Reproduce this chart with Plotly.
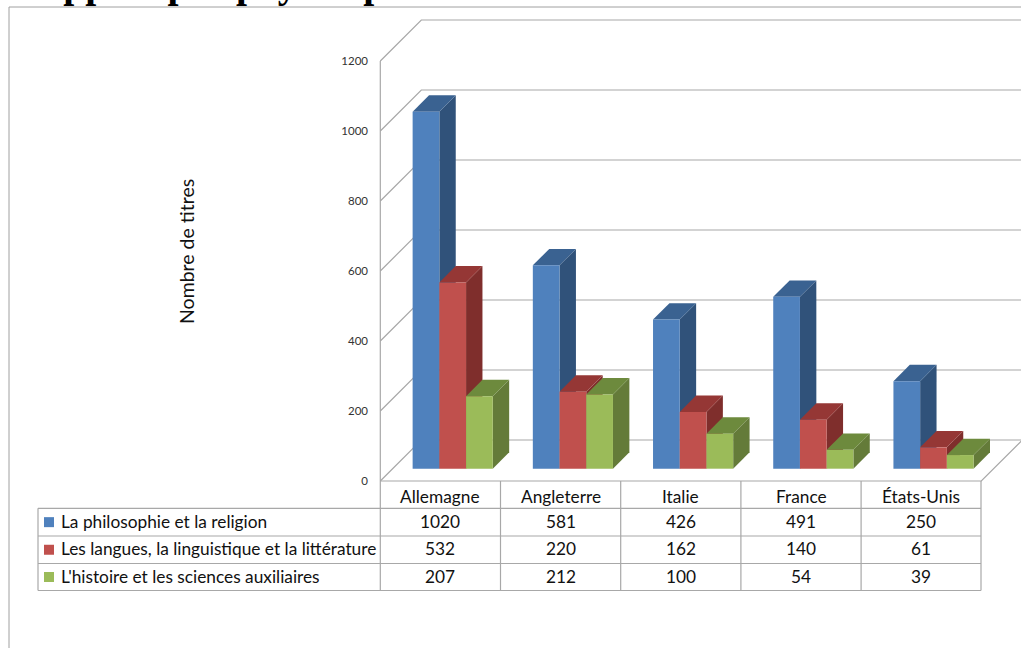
import plotly.graph_objects as go

# Data
countries = ["Allemagne", "Angleterre", "Italie", "France", "États-Unis"]
series_names = [
    "La philosophie et la religion",
    "Les langues, la linguistique et la littérature",
    "L'histoire et les sciences auxiliaires",
]
philosophie = [1020, 581, 426, 491, 250]
langues = [532, 220, 162, 140, 61]
histoire = [207, 212, 100, 54, 39]
axis_ticks = [0, 200, 400, 600, 800, 1000, 1200]

# Colours per series: front, side and top faces
front_colors = ["#4F81BD", "#C0504D", "#9BBB59"]
side_colors = ["#30527A", "#7F2E2C", "#647B39"]
top_colors = ["#3A6291", "#953735", "#6D8A3D"]
GRID = "#A8A8A8"
TEXT = "#111111"

# Canvas and oblique projection settings
W, H = 1021, 648
PLOT_LEFT = 380.3
CAT_PX = 120.2
ZERO_PX = 481
VALUE_PX = 0.35
WALL_PX = 41
BAR_FRONT, BAR_BACK = 0.30, 0.70
DX = WALL_PX / CAT_PX
DY = WALL_PX / VALUE_PX
BAR_W = 2 / 9
x_range = [-PLOT_LEFT / CAT_PX, (W - PLOT_LEFT) / CAT_PX]
y_range = [(ZERO_PX - H) / VALUE_PX, ZERO_PX / VALUE_PX]


def px(x):
    return x / W


def py(y):
    return 1 - y / H


fig = go.Figure()

# Back wall grid, left wall diagonals and floor outline
gx, gy = [], []
for v in axis_ticks:
    gx += [0, DX, x_range[1], None]
    gy += [v, v + DY, v + DY, None]
gx += [0, 0, None, 0, 5, 5 + DX]
gy += [0, 1200, None, 0, 0, DY]
fig.add_trace(go.Scatter(x=gx, y=gy, mode="lines", line=dict(color=GRID, width=1.2),
                         hoverinfo="skip", showlegend=False, zorder=0))

# Bars: side and top faces behind each series' front face
for s, values in enumerate([philosophie, langues, histoire]):
    for i, v in enumerate(values):
        left = i + 1 / 6 + s * BAR_W + BAR_FRONT * DX
        right = left + BAR_W
        depth_x = (BAR_BACK - BAR_FRONT) * DX
        depth_y = (BAR_BACK - BAR_FRONT) * DY
        base = BAR_FRONT * DY
        top = base + v
        fig.add_trace(go.Scatter(
            x=[right, right + depth_x, right + depth_x, right, right],
            y=[base, base + depth_y, top + depth_y, top, base],
            mode="lines", fill="toself", fillcolor=side_colors[s], line=dict(width=0),
            hoverinfo="skip", showlegend=False, zorder=2 * s + 1))
        fig.add_trace(go.Scatter(
            x=[left, right, right + depth_x, left + depth_x, left],
            y=[top, top, top + depth_y, top + depth_y, top],
            mode="lines", fill="toself", fillcolor=top_colors[s], line=dict(width=0),
            hoverinfo="skip", showlegend=False, zorder=2 * s + 1))
    fig.add_trace(go.Bar(
        x=[i + 1 / 6 + (s + 0.5) * BAR_W + BAR_FRONT * DX for i in range(len(values))],
        y=values,
        base=BAR_FRONT * DY,
        width=BAR_W,
        name=series_names[s],
        marker=dict(color=front_colors[s], line=dict(width=0)),
        showlegend=False,
        zorder=2 * s + 2,
    ))

# Data table below the plot
shapes = []


def rule(x0, y0, x1, y1, color=GRID, width=1.2):
    shapes.append(dict(type="line", xref="paper", yref="paper",
                       x0=px(x0), y0=py(y0), x1=px(x1), y1=py(y1),
                       line=dict(color=color, width=width)))


col_edges = [380.3, 500.5, 620.7, 740.9, 861.1, 981]
row_edges = [508.3, 536, 563.5, 590.5]
for y in row_edges:
    rule(38, y, 981, y)
rule(38, 508.3, 38, 590.5)
for x in col_edges:
    rule(x, 481, x, 590.5)

# Page frame
rule(9, 7, W, 7, "#A0A0A0", 1)
rule(9, 7, 9, H, "#A0A0A0", 1)

annotations = []


def label(x, y, text, size=17.3, anchor="center", **kw):
    annotations.append(dict(xref="paper", yref="paper", x=px(x), y=py(y), text=text,
                            showarrow=False, xanchor=anchor, yanchor="middle",
                            font=dict(family=kw.pop("family", "Lato"), size=size,
                                      color=kw.pop("color", TEXT)), **kw))


for i, name in enumerate(countries):
    label(PLOT_LEFT + (i + 0.5) * CAT_PX, 496.5, name)
for r, values in enumerate([philosophie, langues, histoire]):
    mid = (row_edges[r] + row_edges[r + 1]) / 2
    label(58.5, mid - 1, series_names[r], anchor="left")
    shapes.append(dict(type="rect", xref="paper", yref="paper",
                       x0=px(44), x1=px(54), y0=py(mid - 5), y1=py(mid + 5),
                       fillcolor=front_colors[r], line=dict(width=0)))
    for i, v in enumerate(values):
        label(PLOT_LEFT + (i + 0.5) * CAT_PX, mid - 1, str(v))

label(187, 252, "Nombre de titres", size=19.5, textangle=-90)

# Running heading of the page, cut by the top edge
annotations.append(dict(xref="paper", yref="paper", x=px(13), y=1, yshift=16,
                        yanchor="middle", xanchor="left", showarrow=False,
                        text="<b>Rapport par pays et par</b>",
                        font=dict(family="Liberation Serif", size=39.5, color="#000000")))

fig.update_layout(
    width=W, height=H, autosize=False,
    margin=dict(l=0, r=0, t=0, b=0),
    paper_bgcolor="#FFFFFF", plot_bgcolor="#FFFFFF",
    barmode="overlay", showlegend=False,
    shapes=shapes, annotations=annotations,
    xaxis=dict(range=x_range, visible=False, domain=[0, 1]),
    yaxis=dict(range=y_range, domain=[0, 1], anchor="free", position=px(368),
               tickmode="array", tickvals=axis_ticks, showgrid=False, zeroline=False,
               showline=False, ticks="", tickfont=dict(family="Lato", size=11.5, color="#333333")),
)
fig.write_html("out.html")
